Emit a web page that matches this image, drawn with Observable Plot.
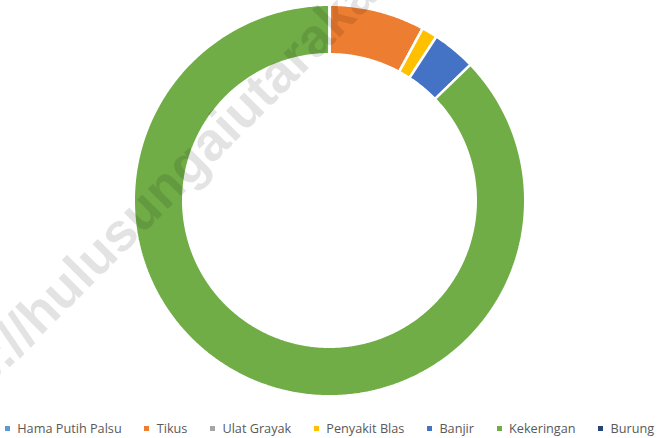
<!DOCTYPE html>
<html>
<head>
<meta charset="utf-8">
<script src="https://cdn.jsdelivr.net/npm/d3@7"></script>
<script src="https://cdn.jsdelivr.net/npm/@observablehq/plot@0.6"></script>
<style>
  html, body { margin: 0; padding: 0; background: #fff; }
  body { width: 659px; height: 438px; overflow: hidden; position: relative; font-family: "Open Sans", sans-serif; }
  #legend { display: flex; justify-content: center; align-items: center; gap: 22.5px; height: 26px; font-size: 12.7px; color: #595959; white-space: nowrap; }
  #legend .item { display: flex; align-items: center; }
  #legend .sw { width: 5px; height: 5px; margin-right: 7.5px; }
  #wm { position: absolute; left: 0; top: 0; pointer-events: none; }
</style>
</head>
<body>
<div id="chart"></div>
<div id="legend"></div>
<svg id="wm" width="659" height="438"></svg>
<script>
// Data
const categories = ["Hama Putih Palsu", "Tikus", "Ulat Grayak", "Penyakit Blas", "Banjir", "Kekeringan", "Burung"];
const values = [0, 7.9, 0, 1.3, 3.6, 87.2, 0];
const colors = ["#5B9BD5", "#ED7D31", "#A5A5A5", "#FFC000", "#4472C4", "#70AD47", "#264478"];
const watermark = ["https://", "hulusungaiutarakab.go.id"];

// Layout (pixel units)
const W = 659, H = 415, CX = 329, CY = 200;
const strokeW = 2.5;
const R = 194.5 + strokeW / 2, r = 147.5 - strokeW / 2;

// Build slice polygons from the values (clockwise from top)
const total = d3.sum(values);
const pts = [];
let acc = 0;
categories.forEach((name, i) => {
  const a0 = acc / total * 2 * Math.PI;
  acc += values[i];
  const a1 = acc / total * 2 * Math.PI;
  const n = Math.max(1, Math.ceil((a1 - a0) / (Math.PI / 360)));
  for (let k = 0; k <= n; k++) {
    const a = a0 + (a1 - a0) * k / n;
    pts.push({name, x: R * Math.sin(a), y: R * Math.cos(a)});
  }
  for (let k = n; k >= 0; k--) {
    const a = a0 + (a1 - a0) * k / n;
    pts.push({name, x: r * Math.sin(a), y: r * Math.cos(a)});
  }
});

const chart = Plot.plot({
  width: W,
  height: H,
  margin: 0,
  x: {domain: [-CX, W - CX], axis: null},
  y: {domain: [-(H - CY), CY], axis: null},
  color: {type: "ordinal", domain: categories, range: colors},
  marks: [
    Plot.line(pts, {x: "x", y: "y", z: "name", fill: "name", stroke: "white", strokeWidth: strokeW, curve: "linear-closed", strokeLinejoin: "miter"})
  ]
});
document.getElementById("chart").appendChild(chart);

// Legend
const legend = d3.select("#legend");
categories.forEach((c, i) => {
  const it = legend.append("div").attr("class", "item");
  it.append("div").attr("class", "sw").style("background", colors[i]);
  it.append("span").text(c);
});

// Watermark
const wm = d3.select("#wm");
const g = wm.append("g").attr("transform", "translate(40,337) rotate(-45)")
  .attr("font-family", "'Liberation Sans', Arial, sans-serif")
  .attr("font-weight", "bold").attr("font-size", 54).attr("fill", "rgba(0,0,0,0.11)");
g.append("text").attr("text-anchor", "end").text(watermark[0]);
g.append("text").attr("text-anchor", "start").text(watermark[1]);
</script>
</body>
</html>
